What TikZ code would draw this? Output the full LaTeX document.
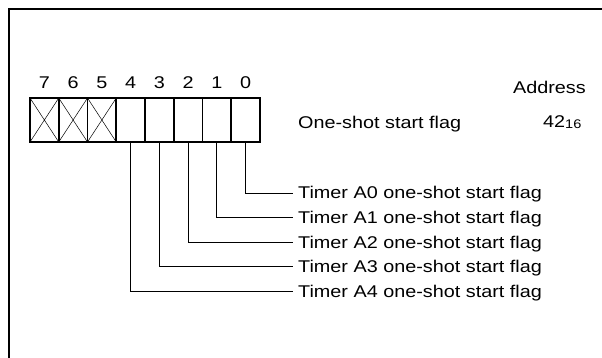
\documentclass[tikz,border=0pt]{standalone}
\usepackage{fontspec}
\setmainfont{Liberation Sans}[FakeStretch=1.165]
\usetikzlibrary{positioning,calc}

\begin{document}
\begin{tikzpicture}[x=1pt, y=-1pt,
    bitcell/.style={draw, line width=1.6pt, minimum width=28.75pt,
      minimum height=44pt, inner sep=0pt, outer sep=0pt},
    bitnum/.style={font=\fontsize{17}{20}\selectfont, inner sep=0pt},
    txt/.style={font=\fontsize{17}{20}\selectfont, anchor=west,
      inner xsep=5pt, inner ysep=0pt, text height=12pt, text depth=0pt},
    lead/.style={line width=0.8pt}
  ]
  \useasboundingbox (0,0) rectangle (602,358);

  % frame
  \draw[line width=2pt] (9,358) -- (9,9) -- (602,9);

  % bit cells and numbers
  \foreach \b in {7,...,0} {
    \node[bitcell] (b\b) at ({44.375+28.75*(7-\b)},120) {};
    \node[bitnum] (n\b) at ($(b\b.north)+(0,-15)$) {\b};
  }
  % unused bits
  \foreach \b in {7,6,5}
    \draw[line width=0.5pt] (b\b.north west) -- (b\b.south east)
                            (b\b.north east) -- (b\b.south west);

  % register name and address
  \node[txt] (reg) at (293,123) {One-shot start flag};
  \node[txt, anchor=east, inner xsep=0pt] (addr) at (586,88) {Address};
  \node[txt, inner xsep=0pt] (addrval) at (543,122)
    {42{\fontsize{12.5}{13}\selectfont\raisebox{-1pt}{16}}};

  % flag labels
  \foreach \b in {0,...,4} {
    \node[txt] (f\b) at (293,{193+24.5*\b}) {Timer A\b{} one-shot start flag};
    \draw[lead] (b\b.south) |- (f\b.west);
  }
\end{tikzpicture}
\end{document}
